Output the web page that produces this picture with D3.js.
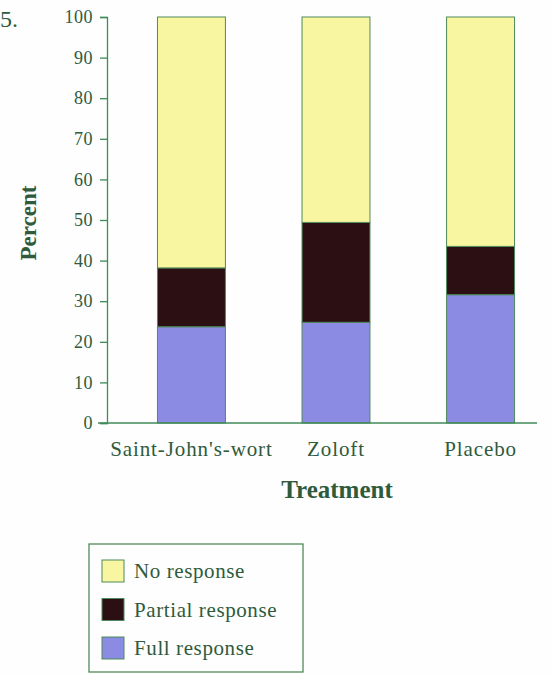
<!DOCTYPE html>
<html lang="en">
<head>
    <meta charset="UTF-8">
    <title>Response by Treatment</title>
    <script src="https://d3js.org/d3.v7.min.js"></script>
    <style>
        body { margin: 0; background: #fdfefd; }
        text { font-family: "Liberation Serif", "DejaVu Serif", serif; fill: #2f5a3c; }
    </style>
</head>
<body>
    <div id="chart-container"></div>
    <script>
        // data (percent of patients)
        const treatments = ["Saint-John's-wort", "Zoloft", "Placebo"];
        const fullResponse = [23.7, 24.8, 31.6];
        const partialResponse = [14.5, 24.6, 11.9];
        const noResponse = [61.8, 50.6, 56.5];
        const yTicks = [0, 10, 20, 30, 40, 50, 60, 70, 80, 90, 100];
        const legendLabels = ["No response", "Partial response", "Full response"];

        const keys = ["full", "partial", "none"];
        const colors = { full: "#8b8be3", partial: "#2b0f12", none: "#f8f6a0" };

        const rows = treatments.map((t, i) => ({
            treatment: t, full: fullResponse[i], partial: partialResponse[i], none: noResponse[i]
        }));

        const containerWidth = 551;
        const containerHeight = 675;
        const axisX = 107;

        const svg = d3.select("#chart-container")
            .append("svg")
            .attr("width", containerWidth)
            .attr("height", containerHeight);

        const x = d3.scaleBand()
            .domain(treatments)
            .range([117, 555])
            .paddingInner(0.53)
            .paddingOuter(0.28);

        const y = d3.scaleLinear()
            .domain([0, 100])
            .range([423, 17]);

        const stacked = d3.stack().keys(keys)(rows);

        svg.append("g")
            .selectAll("g")
            .data(stacked)
            .enter()
            .append("g")
            .attr("fill", d => colors[d.key])
            .selectAll("rect")
            .data(d => d)
            .enter()
            .append("rect")
            .attr("x", d => x(d.data.treatment))
            .attr("width", x.bandwidth())
            .attr("y", d => y(d[1]))
            .attr("height", d => y(d[0]) - y(d[1]))
            .attr("stroke", "#4f8a5c")
            .attr("stroke-width", 1);

        // y axis
        const yAxis = svg.append("g")
            .attr("transform", `translate(${axisX},0)`)
            .call(d3.axisLeft(y).tickValues(yTicks).tickSize(7).tickPadding(7));
        yAxis.select(".domain").attr("stroke", "#3f8a58").attr("stroke-width", 1.3);
        yAxis.selectAll(".tick line").attr("stroke", "#3f8a58").attr("stroke-width", 1.3);
        yAxis.selectAll(".tick text")
            .style("font-family", "Liberation Serif, serif")
            .style("font-size", "18px")
            .style("letter-spacing", "0.5px")
            .attr("fill", "#4a7d5a");

        // baseline
        svg.append("line")
            .attr("x1", 98).attr("x2", 537)
            .attr("y1", y(0)).attr("y2", y(0))
            .attr("stroke", "#3f8a58")
            .attr("stroke-width", 1.6);

        // category labels
        svg.selectAll(".cat")
            .data(treatments)
            .enter()
            .append("text")
            .attr("class", "cat")
            .attr("x", d => x(d) + x.bandwidth() / 2)
            .attr("y", 456)
            .attr("text-anchor", "middle")
            .style("font-size", "21px")
            .style("letter-spacing", "0.9px")
            .text(d => d);

        svg.append("text")
            .attr("x", 337)
            .attr("y", 498)
            .attr("text-anchor", "middle")
            .style("font-size", "25px")
            .style("font-weight", "bold")
            .attr("fill", "#1f4a2c")
            .text("Treatment");

        svg.append("text")
            .attr("transform", "translate(36,223) rotate(-90)")
            .attr("text-anchor", "middle")
            .style("font-size", "23px")
            .style("font-weight", "bold")
            .attr("fill", "#1f4a2c")
            .text("Percent");

        svg.append("text")
            .attr("x", 0)
            .attr("y", 27)
            .style("font-size", "24px")
            .attr("fill", "#111")
            .text("5.");

        // legend
        const legend = svg.append("g").attr("transform", "translate(89,544)");
        legend.append("rect")
            .attr("width", 214)
            .attr("height", 128)
            .attr("fill", "none")
            .attr("stroke", "#4f8a5c")
            .attr("stroke-width", 1.3);

        const legendColors = [colors.none, colors.partial, colors.full];
        const item = legend.selectAll(".item")
            .data(legendLabels)
            .enter()
            .append("g")
            .attr("class", "item")
            .attr("transform", (d, i) => `translate(13,${16 + i * 38.5})`);
        item.append("rect")
            .attr("width", 22)
            .attr("height", 22)
            .attr("fill", (d, i) => legendColors[i])
            .attr("stroke", "#4f8a5c");
        item.append("text")
            .attr("x", 32)
            .attr("y", 18)
            .style("font-size", "21px")
            .style("letter-spacing", "0.6px")
            .text(d => d);
    </script>
</body>
</html>
